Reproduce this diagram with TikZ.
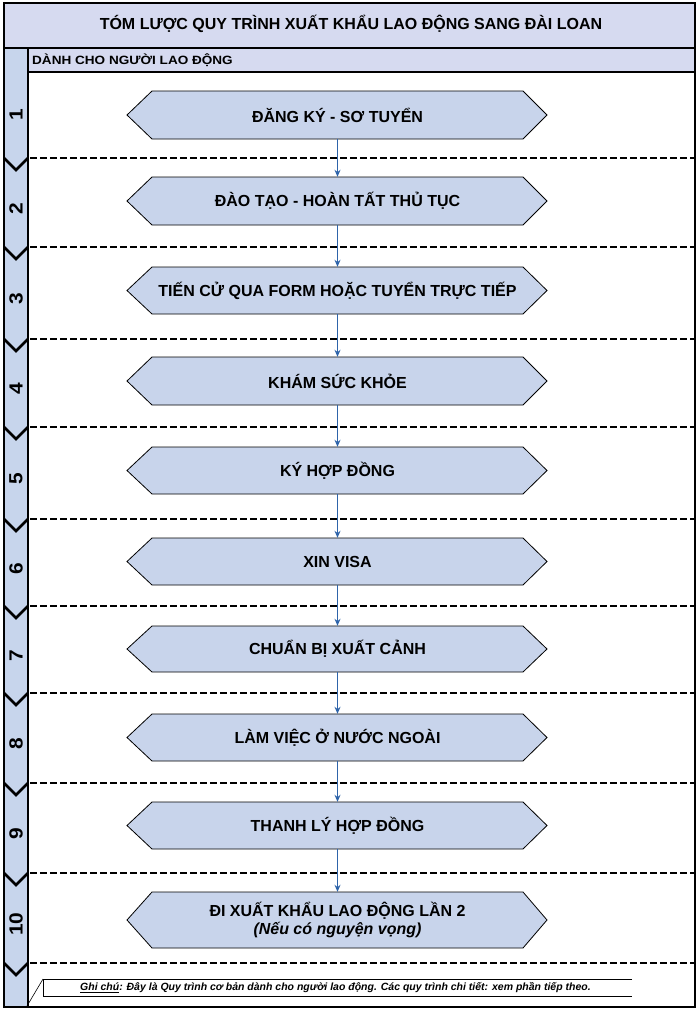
\documentclass[tikz,border=0pt]{standalone}
\usepackage{fontspec}
\setmainfont{Liberation Sans}
\usetikzlibrary{arrows.meta,calc}
\definecolor{titlefill}{RGB}{214,218,240}
\definecolor{colfill}{RGB}{199,213,236}
\definecolor{hexfill}{RGB}{200,212,235}
\definecolor{arrowblue}{RGB}{46,100,170}
\tikzset{
  hexshape/.style={draw=black, fill=hexfill, line width=0.8pt, line join=miter},
  hexbox/.style={minimum width=371pt, inner sep=0pt, align=center,
    font=\bfseries\fontsize{16}{18.5}\selectfont},
  sepline/.style={line width=2.9pt, dash pattern=on 6.5pt off 3.5pt},
  chev/.style={line width=2.8pt, line join=miter},
  flow/.style={draw=arrowblue, line width=1pt, -{Stealth[length=7pt,width=6pt]}},
  num/.style={rotate=90, inner sep=0pt, font=\bfseries\fontsize{19}{19}\selectfont},
  frame/.style={draw=black, line width=1.2pt},
}
\begin{document}
\begin{tikzpicture}[x=1pt,y=-1pt]
\useasboundingbox (0,0) rectangle (696,1009);
\fill[white] (0,0) rectangle (696,1009);
% bands
\fill[titlefill] (4,3) rectangle (695,48);
\fill[titlefill] (28,48) rectangle (695,72);
\fill[colfill] (4,48) rectangle (28,1007);
\draw[frame] (4,48) -- (695,48);
\draw[frame] (28,72) -- (695,72);
\draw[frame] (28,48) -- (28,1007);
\draw[frame] (4,3) rectangle (695,1007);
\node[font=\bfseries\fontsize{16}{18}\selectfont] (title) at (351,24) {TÓM LƯỢC QUY TRÌNH XUẤT KHẨU LAO ĐỘNG SANG ĐÀI LOAN};
\node[anchor=west, inner sep=0pt, font=\bfseries\fontsize{12}{13}\selectfont] (sub) at (32,60) {\scalebox{1.13}[1]{DÀNH CHO NGƯỜI LAO ĐỘNG}};
% separators and chevrons
\foreach \L in {158,247,339,427,519,606,693,783,873,963}{
  \draw[sepline] (30,\L) -- (695,\L);
  \draw[chev] (4,\L) -- (16,{\L+12}) -- (28,\L);
}
% numbers
\foreach \n/\c in {1/115,2/208.5,3/299,4/389,5/479,6/568.5,7/655.5,8/744,9/834,10/924}{
  \node[num] (n\n) at (16,\c) {\scalebox{1.1}[1]{\n}};
}
% hexagons
\foreach \i/\c/\h/\t in {
  1/115/24/{ĐĂNG KÝ - SƠ TUYỂN},
  2/201/24/{ĐÀO TẠO - HOÀN TẤT THỦ TỤC},
  3/290.5/23.5/{TIẾN CỬ QUA FORM HOẶC TUYỂN TRỰC TIẾP},
  4/381/24/{KHÁM SỨC KHỎE},
  5/470.5/23.5/{KÝ HỢP ĐỒNG},
  6/561.5/23.5/{XIN VISA},
  7/649/23/{CHUẨN BỊ XUẤT CẢNH},
  8/737.5/23.5/{LÀM VIỆC Ở NƯỚC NGOÀI},
  9/825.5/23.5/{THANH LÝ HỢP ĐỒNG},
  10/920/28/{ĐI XUẤT KHẨU LAO ĐỘNG LẦN 2\\{\itshape (Nếu có nguyện vọng)}}}{
  \draw[hexshape] (152,{\c-\h}) -- (523,{\c-\h}) -- (547,\c) -- (523,{\c+\h})
     -- (152,{\c+\h}) -- (127,\c) -- cycle;
  \node[hexbox, minimum height={2*\h}] (b\i) at (337.5,\c) {\t};
}
\foreach \a/\b in {1/2,2/3,3/4,4/5,5/6,6/7,7/8,8/9,9/10}{
  \draw[flow] (b\a.south) -- (b\b.north);
}
% footnote
\draw[line width=0.8pt] (632,979) -- (43,979) -- (43,996) -- (632,996);
\draw[line width=0.6pt] (43,979) -- (27,1006);
\node[anchor=west, inner sep=0pt, font=\bfseries\itshape\fontsize{10.5}{12}\selectfont] (note) at (80,988)
  {\underline{Ghi chú}: Đây là Quy trình cơ bản dành cho người lao động. Các quy trình chi tiết: xem phần tiếp theo.};
\end{tikzpicture}
\end{document}
